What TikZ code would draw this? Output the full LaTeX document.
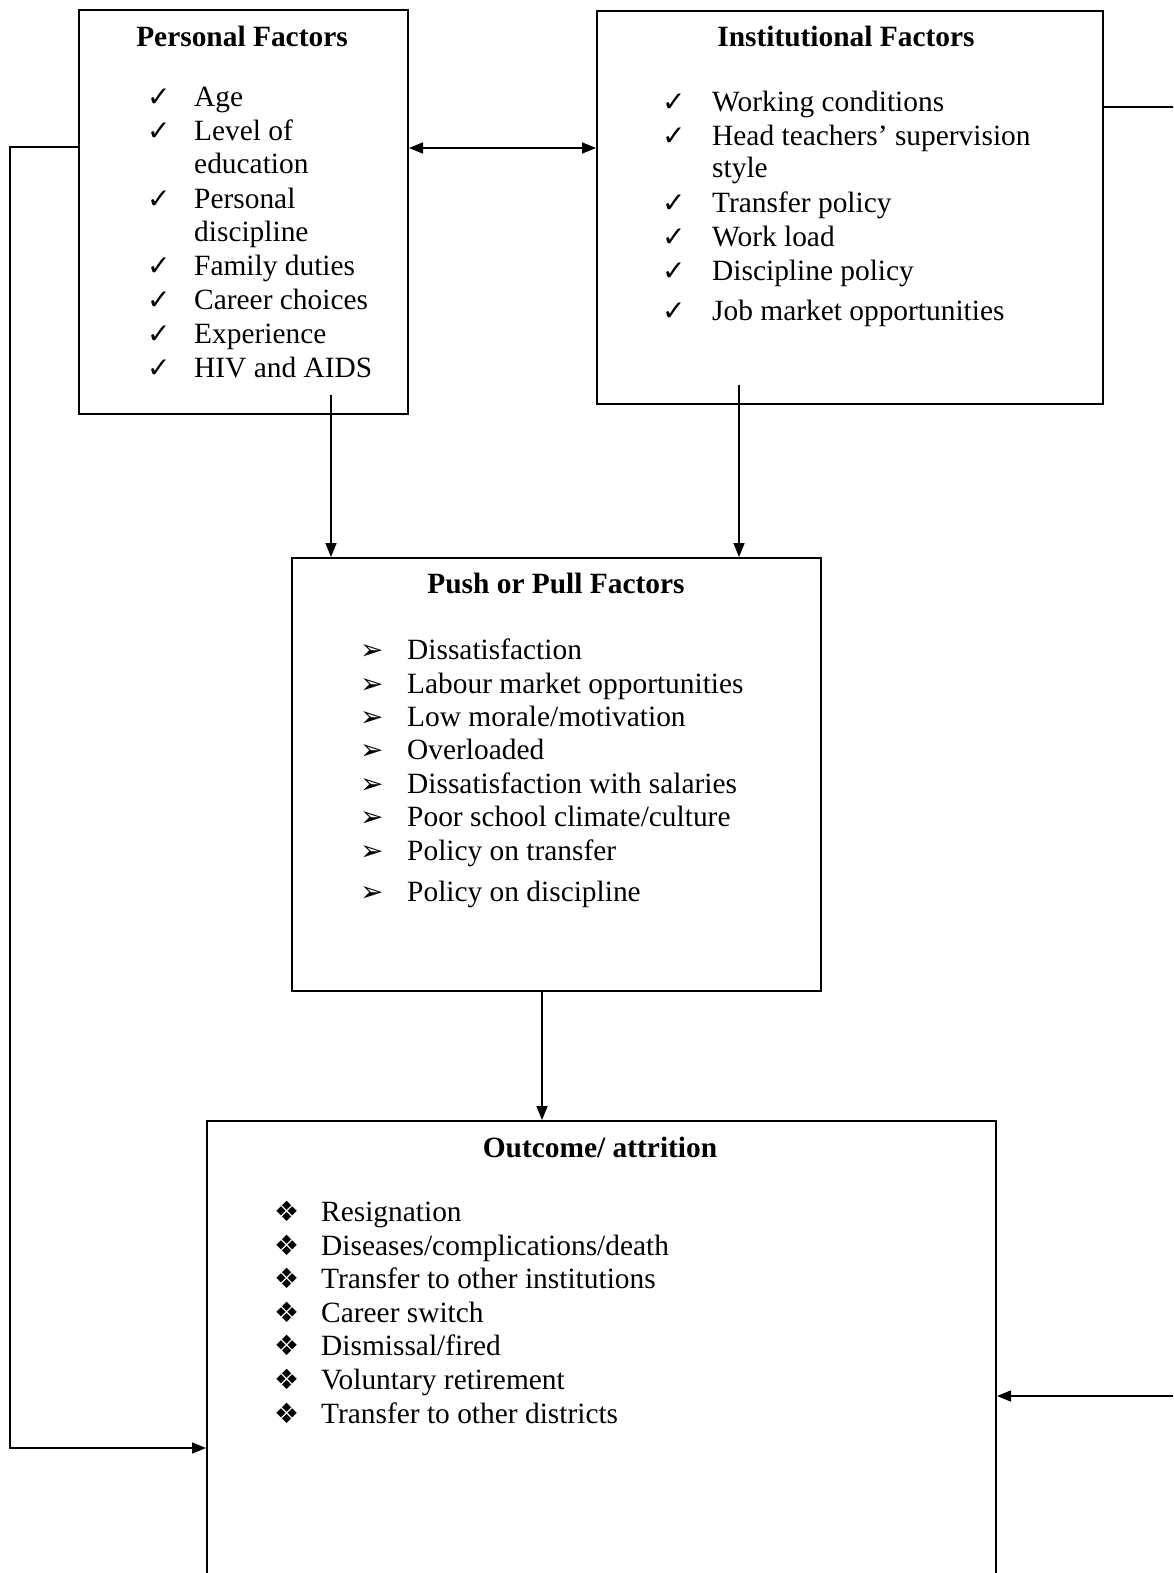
\documentclass[tikz,border=0pt]{standalone}
\usepackage{fontspec}
\setmainfont{Liberation Serif}
\newfontfamily\symfont{DejaVu Sans}
\usetikzlibrary{arrows.meta}
\tikzset{
  box/.style={draw,line width=2pt,inner sep=0pt,anchor=north west},
  head/.style={font=\fontsize{29.4}{34}\selectfont\bfseries,anchor=base,inner sep=0pt},
  item/.style={font=\fontsize{29.4}{34}\selectfont,anchor=base west,inner sep=0pt},
  tick/.style={font=\symfont\fontsize{28}{32}\selectfont,anchor=base west,inner sep=0pt},
  link/.style={line width=1.6pt,-{Triangle[length=14pt,width=11pt]}},
}
\begin{document}
\begin{tikzpicture}[x=1pt,y=-1pt]
  \useasboundingbox (0,0) rectangle (1173,1573);
  \clip (0,0) rectangle (1173,1573);
  % boxes
  \node[box,minimum width=329,minimum height=404] (pers) at (78,9) {};
  \node[box,minimum width=506,minimum height=393] (inst) at (596,10) {};
  \node[box,minimum width=529,minimum height=433] (push) at (291,557) {};
  \node[box,minimum width=789,minimum height=520] (outc) at (206,1120) {};
  % titles
  \node[head] (pers-t) at (242,47) {Personal Factors};
  \node[head] (inst-t) at (846,47) {Institutional Factors};
  \node[head] (push-t) at (556,593) {Push or Pull Factors};
  \node[head] (outc-t) at (600,1157) {Outcome/ attrition};
  % personal factors
  \foreach \y/\m/\t [count=\i] in {107/1/Age,141/1/Level of,174/0/education,
      208/1/Personal,241/0/discipline,275/1/Family duties,309/1/Career choices,
      343/1/Experience,377/1/HIV and AIDS}{
    \node[item] (pers\i) at (194,\y) {\t};
    \ifnum\m=1 \node[tick] (persm\i) at (147,\y) {✓}; \fi
  }
  % institutional factors
  \foreach \y/\m/\t [count=\i] in {112/1/Working conditions,146/1/Head teachers’ supervision,
      178/0/style,212/1/Transfer policy,246/1/Work load,280/1/Discipline policy,
      320/1/Job market opportunities}{
    \node[item] (inst\i) at (712,\y) {\t};
    \ifnum\m=1 \node[tick] (instm\i) at (662,\y) {✓}; \fi
  }
  % push or pull factors
  \foreach \y/\t [count=\i] in {659/Dissatisfaction,693/Labour market opportunities,
      726/{Low morale/motivation},759/Overloaded,793/Dissatisfaction with salaries,
      826/{Poor school climate/culture},860/Policy on transfer,901/Policy on discipline}{
    \node[item] (push\i) at (407,\y) {\t};
    \node[tick] (pushm\i) at (360,\y) {➢};
  }
  % outcome
  \foreach \y/\t [count=\i] in {1221/Resignation,1255/{Diseases/complications/death},
      1288/Transfer to other institutions,1322/Career switch,1355/{Dismissal/fired},
      1389/Voluntary retirement,1423/Transfer to other districts}{
    \node[item] (outc\i) at (321,\y) {\t};
    \node[tick] (outcm\i) at (274,\y) {❖};
  }
  % connectors
  \coordinate (mid) at (500,148);
  \draw[link,{Triangle[length=14pt,width=11pt]}-{Triangle[length=14pt,width=11pt]}]
    (pers.east|-mid) -- (inst.west|-mid);
  \coordinate (pd) at (331,395);
  \coordinate (id) at (739,385);
  \coordinate (po) at (542,990);
  \draw[link] (pd) -- (pd|-push.north);
  \draw[link] (id) -- (id|-push.north);
  \draw[link] (push.south-|po) -- (po|-outc.north);
  \coordinate (lt) at (10,147);
  \coordinate (lb) at (10,1448);
  \draw[link] (pers.west|-lt) -- (lt) -- (lb) -- (outc.west|-lb);
  \coordinate (rt) at (1190,107);
  \coordinate (rb) at (1190,1396);
  \draw[link] (inst.east|-rt) -- (rt) -- (rb) -- (outc.east|-rb);
\end{tikzpicture}
\end{document}
